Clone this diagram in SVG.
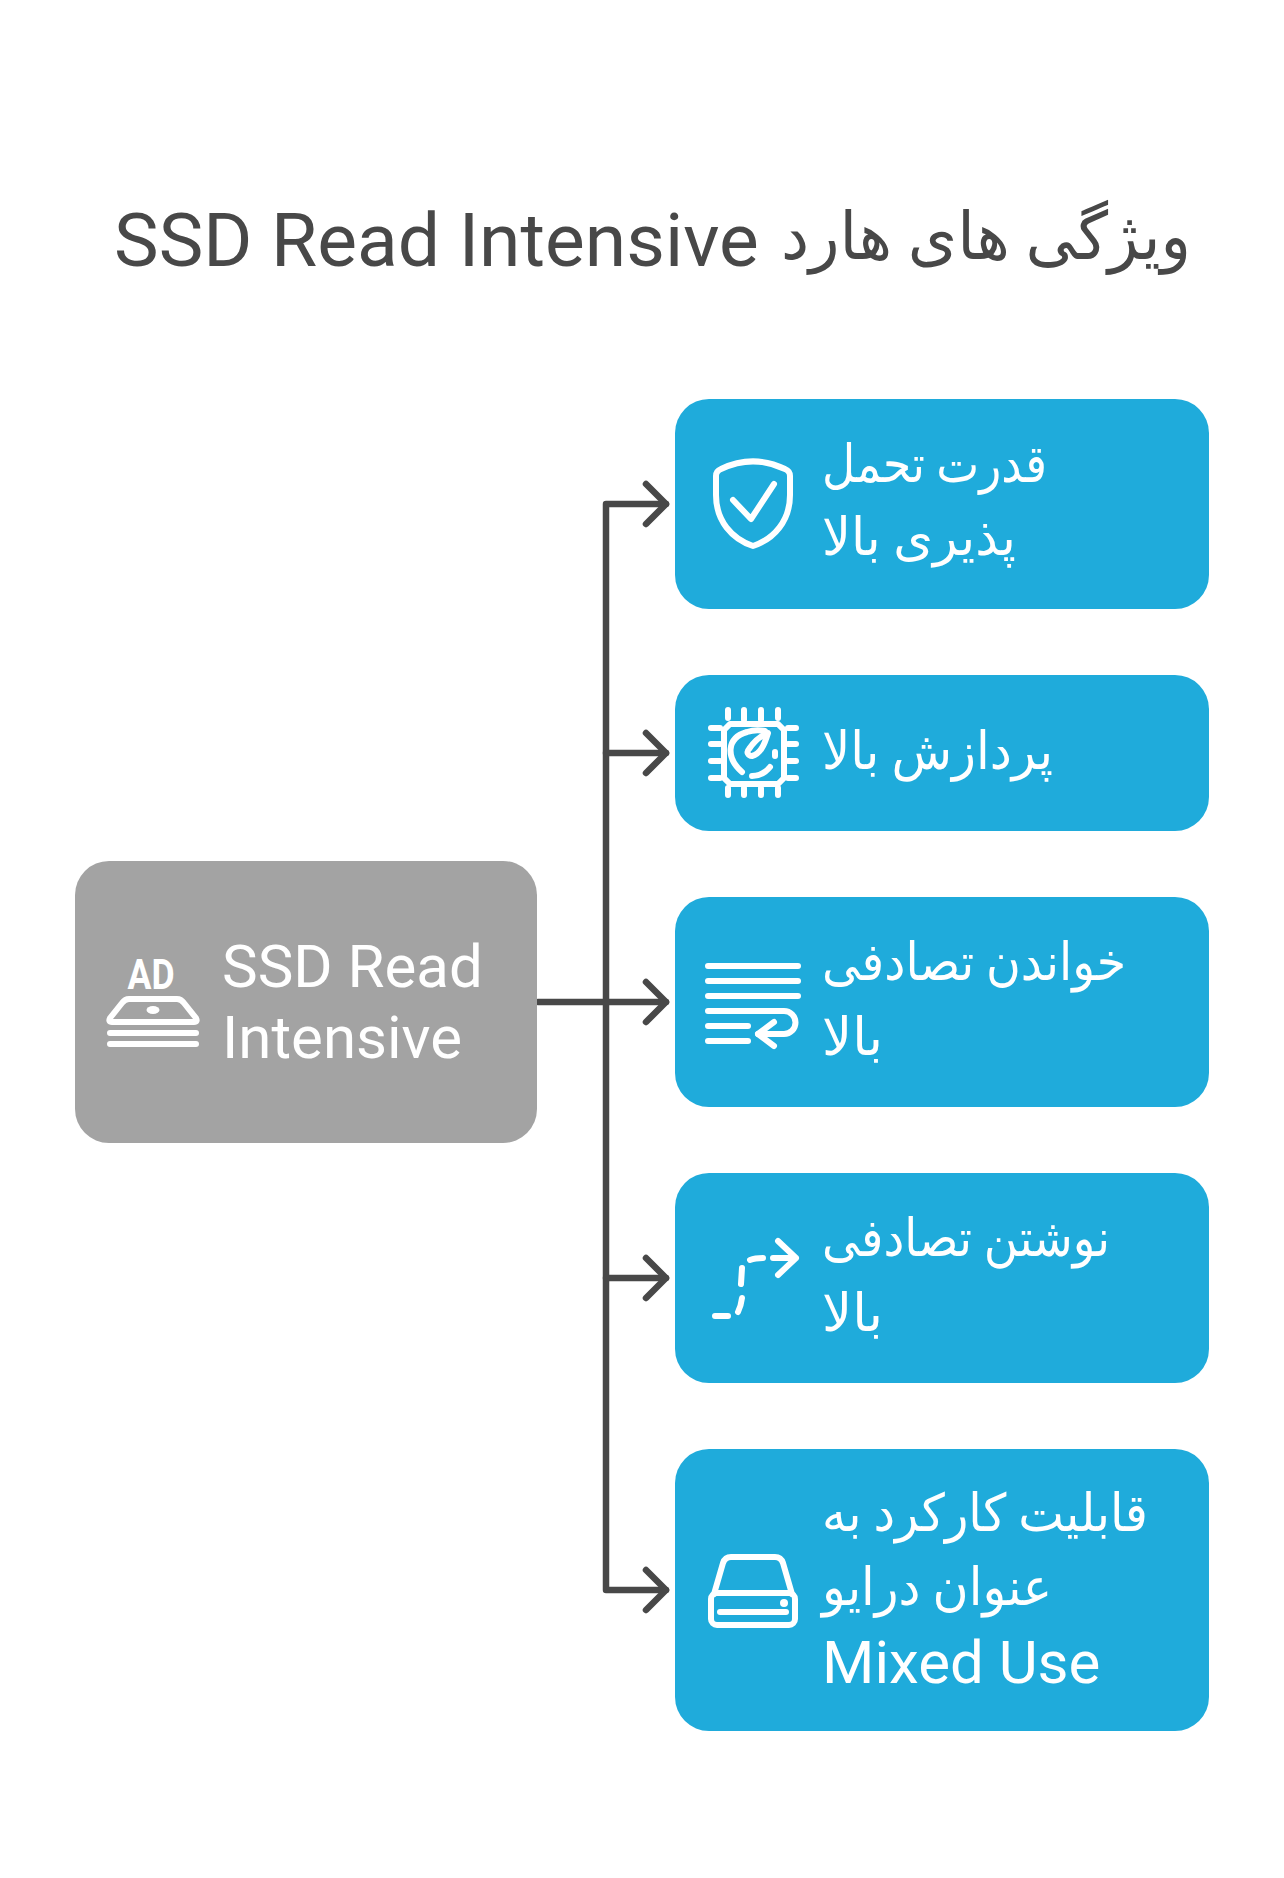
<svg xmlns="http://www.w3.org/2000/svg" width="1284" height="1878" viewBox="0 0 1284 1878">
<defs>
<style>
text{font-family:Roboto,"DejaVu Sans",sans-serif}
.t{font-size:60px;fill:#fff}
.a{font-size:52px;fill:#fff}
.title{font-size:75px;fill:#484848}
.blue{fill:#1fabdb}
.gray{fill:#a3a3a3}
.c{fill:none;stroke:#484848;stroke-width:6.5;stroke-linecap:round;stroke-linejoin:round}
.i{fill:none;stroke:#fff;stroke-width:6;stroke-linecap:round;stroke-linejoin:round}
</style>
</defs>
<rect width="1284" height="1878" fill="#fff"/>
<text id="title" class="title" x="1191" y="266" direction="rtl"><tspan font-size="66" dy="-7" textLength="410" lengthAdjust="spacingAndGlyphs">ویژگی های هارد</tspan> <tspan dy="7" dx="15">SSD Read Intensive</tspan></text>
<g id="connectors" class="c">
<path d="M538 1002H666"/>
<path d="M666 504H606V1590H666"/>
<path d="M606 753H666"/>
<path d="M606 1278H666"/>
<path d="M646 484L666 504L646 524"/>
<path d="M646 733L666 753L646 773"/>
<path d="M646 982L666 1002L646 1022"/>
<path d="M646 1258L666 1278L646 1298"/>
<path d="M646 1570L666 1590L646 1610"/>
</g>
<g id="root">
<rect class="gray" x="75" y="861" width="462" height="282" rx="34"/>
<g class="i">
<path d="M110 1018L122 1003Q125 999 129 999H177Q181 999 184 1003L196 1018Q198 1022 194 1022H112Q108 1022 110 1018Z"/>
<path d="M110 1033H196M110 1044H196"/>
</g>
<ellipse cx="153" cy="1010" rx="6.5" ry="4" fill="#fff"/>
<text x="151" y="989" text-anchor="middle" textLength="47" lengthAdjust="spacingAndGlyphs" font-size="42" font-weight="700" fill="#fff">AD</text>
<text class="t" x="222" y="987">SSD Read</text>
<text class="t" x="222" y="1058">Intensive</text>
</g>
<g id="n1">
<rect class="blue" x="675" y="399" width="534" height="210" rx="34"/>
<g class="i">
<path d="M716 476Q716 471 721 469C742 459 764 459 785 469Q790 471 790 476V495C790 521 774 539 753 546C732 539 716 521 716 495Z"/>
<path d="M733 500L751 519L774 484"/>
</g>
<text class="a" x="822" y="482" textLength="225" lengthAdjust="spacingAndGlyphs">قدرت تحمل</text>
<text class="a" x="822" y="555" textLength="194" lengthAdjust="spacingAndGlyphs">پذیری بالا</text>
</g>
<g id="n2">
<rect class="blue" x="675" y="675" width="534" height="156" rx="34"/>
<g class="i">
<path d="M730 724H778L784 730V778L778 784H730L724 778V730Z"/>
<path d="M728 710V718M744 710V720M761 710V720M778 710V718M728 788V795M744 788V795M761 788V795M778 788V795M711 728H720M711 744H720M711 761H720M711 778H720M788 728H796M788 744H796M788 761H796M788 778H796"/>
<path d="M742 772C726 758 726 738 747 732C753 730 760 730 765 731"/>
<path d="M768 733C764 746 760 754 752 756C748 756 746 752 749 749C753 743 760 736 768 733Z"/>
<path d="M775 752V756M752 776C760 776 766 772 770 767"/>
</g>
<text class="a" x="822" y="769" textLength="231" lengthAdjust="spacingAndGlyphs">پردازش بالا</text>
</g>
<g id="n3">
<rect class="blue" x="675" y="897" width="534" height="210" rx="34"/>
<g class="i">
<path d="M708 966H798M708 981H798M708 996H798M708 1026H748M708 1041H748"/>
<path d="M708 1011H784A11.5 11.5 0 0 1 784 1034H758"/>
<path d="M774 1022L758 1034L774 1046"/>
</g>
<text class="a" x="822" y="980" textLength="304" lengthAdjust="spacingAndGlyphs">خواندن تصادفی</text>
<text class="a" x="822" y="1055" textLength="61" lengthAdjust="spacingAndGlyphs">بالا</text>
</g>
<g id="n4">
<rect class="blue" x="675" y="1173" width="534" height="210" rx="34"/>
<g class="i">
<path d="M773 1258H796M778 1241L796 1258L778 1275"/>
<path d="M750 1260Q755 1258 763 1258M742 1268L741 1284M742 1298Q741 1306 738 1312M715 1316H728"/>
</g>
<text class="a" x="822" y="1256" textLength="288" lengthAdjust="spacingAndGlyphs">نوشتن تصادفی</text>
<text class="a" x="822" y="1331" textLength="61" lengthAdjust="spacingAndGlyphs">بالا</text>
</g>
<g id="n5">
<rect class="blue" x="675" y="1449" width="534" height="282" rx="34"/>
<g class="i">
<path d="M714 1594L723 1563Q725 1557 731 1557H775Q781 1557 783 1563L792 1594"/>
<rect x="711" y="1593" width="84" height="32" rx="6"/>
<path d="M720 1612H786"/>
</g>
<circle cx="784" cy="1603" r="4" fill="#fff"/>
<text class="a" x="822" y="1531" textLength="326" lengthAdjust="spacingAndGlyphs">قابلیت کارکرد به</text>
<text class="a" x="822" y="1605" textLength="230" lengthAdjust="spacingAndGlyphs">عنوان درایو</text>
<text class="t" x="822" y="1683">Mixed Use</text>
</g>
</svg>
